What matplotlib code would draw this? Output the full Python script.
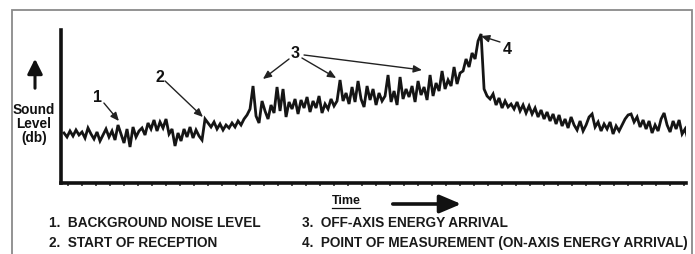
import matplotlib
matplotlib.use("Agg")
import matplotlib.pyplot as plt
import numpy as np
from matplotlib.patches import Rectangle, FancyArrowPatch

# sound level (height above the time axis, arbitrary units), one sample per step
level = [
    50, 46, 52, 47, 53, 48, 51, 45, 55, 49, 44, 51, 42, 48, 54, 46, 52, 43, 58, 49,
    40, 54, 36, 56, 46, 52, 55, 48, 60, 54, 63, 52, 61, 55, 64, 49, 54, 37, 50, 42,
    54, 46, 56, 45, 53, 47, 43, 64,
    60, 56, 61, 54, 59, 53, 58, 55, 60, 56, 62, 58, 64, 68, 74, 97, 67, 60, 82, 72,
    64, 78, 70, 96, 72, 94, 66, 81, 74, 84, 69, 83, 75, 86, 71, 82, 75, 87, 70, 79,
    74, 84, 77, 82, 103, 82,
    90, 79, 96, 81, 102, 84, 76, 97, 83, 94, 78, 90, 82,
    87, 108, 81, 92, 78, 106, 84, 94, 86, 97, 81, 102, 88, 96, 83, 108, 87, 100, 92, 112,
    94, 103, 97, 116, 99, 110, 112, 124, 116, 130, 124, 142, 149, 94,
    87, 84, 89, 78, 85, 75, 82, 76, 79, 74, 81, 72, 78, 70, 77, 69, 75, 66, 73, 64,
    71, 62, 69, 59, 68, 57, 64, 55, 66, 58, 53, 62, 52,
    58, 66, 69, 56, 61, 52, 59, 54, 61, 49, 57, 52, 58, 64, 68, 69, 61, 66, 56, 63,
    54, 62, 50, 58, 52, 64, 70, 58, 51, 62, 54, 63, 49, 54, 43,
]
time = np.arange(len(level))

legend_left = ["1.  BACKGROUND NOISE LEVEL", "2.  START OF RECEPTION"]
legend_right = ["3.  OFF-AXIS ENERGY ARRIVAL", "4.  POINT OF MEASUREMENT (ON-AXIS ENERGY ARRIVAL)"]

# callouts: label, text position, arrow start(s), arrow tip(s)
callouts = [
    ("1", (11, 85), [(13.3, 80)], [(18.3, 62)]),
    ("2", (32, 106), [(33.7, 102)], [(46.3, 66)]),
    ("3", (77, 129), [(75, 124), (79.3, 125), (80, 128)], [(66.3, 104), (90.7, 105), (119.3, 113)]),
    ("4", (147.7, 134), [(145.3, 141)], [(139, 147)]),
]

plt.rcParams["font.family"] = ["Liberation Sans", "DejaVu Sans"]
W, H = 695, 254
fig = plt.figure(figsize=(W / 100, H / 100), dpi=100)

# outer frame
fig.add_artist(Rectangle((12 / W, -0.1), 680 / W, 1.1 - 10 / H, transform=fig.transFigure,
                         fill=False, edgecolor="#8a8a8a", linewidth=1.3))

ax = fig.add_axes([61 / W, (H - 183) / H, (686 - 61) / W, (183 - 30) / H])
ax.plot(time, level, color="#151515", linewidth=2.0, solid_joinstyle="miter")
ax.set_xlim(-1, 207.3)
ax.set_ylim(0, 153)

for s in ["top", "right"]:
    ax.spines[s].set_visible(False)
for s in ["left", "bottom"]:
    ax.spines[s].set_linewidth(2.6)
    ax.spines[s].set_color("#111111")
ax.set_yticks([])
ax.set_xticks(np.arange(1.3, 207, 4.67))
ax.set_xticklabels([])
ax.tick_params(axis="x", direction="out", length=2.5, width=1.2, color="#333333")

for lab, tpos, starts, tips in callouts:
    ax.text(tpos[0], tpos[1], lab, fontsize=11.5, fontweight="bold", ha="center", va="center",
            color="#111111")
    for st, tip in zip(starts, tips):
        ax.annotate("", xy=tip, xytext=st,
                    arrowprops=dict(arrowstyle="-|>,head_length=0.5,head_width=0.22",
                                    color="#222222", lw=1.0, shrinkA=0, shrinkB=0))

# y label with up arrow
fig.add_artist(FancyArrowPatch((35 / W, 1 - 91 / H), (35 / W, 1 - 56 / H), transform=fig.transFigure,
                               arrowstyle="-|>,head_length=0.9,head_width=0.45", color="#111111",
                               lw=2.2, mutation_scale=10))
fig.text(34 / W, 1 - 124 / H, "Sound\nLevel\n(db)", ha="center", va="center", fontsize=9.8,
         fontweight="bold", linespacing=1.0, color="#111111")

# time label with arrow
fig.text(346 / W, 1 - 201 / H, "Time", ha="center", va="center", fontsize=9,
         fontweight="bold", color="#111111")
fig.add_artist(plt.Line2D([332 / W, 360 / W], [1 - 208 / H, 1 - 208 / H], transform=fig.transFigure,
                          color="#111111", lw=0.9))
fig.add_artist(FancyArrowPatch((390 / W, 1 - 204 / H), (464 / W, 1 - 204 / H), transform=fig.transFigure,
                               arrowstyle="-|>,head_length=1.3,head_width=0.55", color="#111111",
                               lw=2.6, mutation_scale=10))

for k, t in enumerate(legend_left):
    fig.text(49 / W, 1 - (223 + 20 * k) / H, t, ha="left", va="center", fontsize=9.8,
             fontweight="bold", color="#1a1a1a")
for k, t in enumerate(legend_right):
    fig.text(302 / W, 1 - (223 + 20 * k) / H, t, ha="left", va="center", fontsize=9.8,
             fontweight="bold", color="#1a1a1a")

fig.savefig("out.png", dpi=100)
